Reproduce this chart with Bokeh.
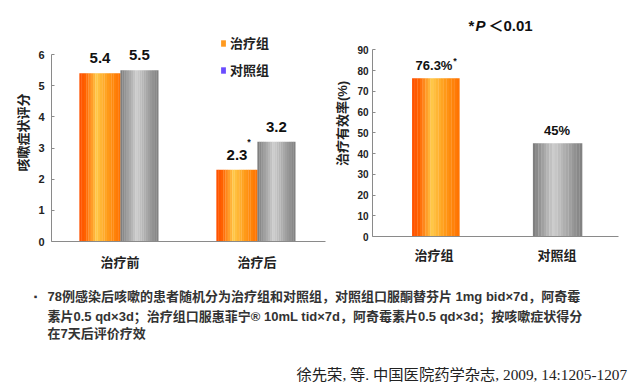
from bokeh.plotting import figure
from bokeh.models import (FactorRange, Range1d, Label, Legend, LegendItem,
                          ColumnDataSource, FixedTicker)
from bokeh.transform import dodge
from bokeh.layouts import column, row
from bokeh.core.properties import value
from bokeh.embed import file_html
from bokeh.resources import INLINE

# ---------------- data ----------------
periods = ["治疗前", "治疗后"]
treat_score = [5.4, 2.3]
control_score = [5.5, 3.2]
treat_score_text = ["5.4", "2.3"]
control_score_text = ["5.5", "3.2"]
treat_score_sig = ["", "*"]
score_ticks = [0, 1, 2, 3, 4, 5, 6]

groups = ["治疗组", "对照组"]
effective_rate = [76.3, 45]
rate_text = ["76.3%", "45%"]
rate_sig = ["*", ""]
rate_ticks = [0, 10, 20, 30, 40, 50, 60, 70, 80, 90]

legend_names = ["治疗组", "对照组"]
legend_colors = ["#FF9A20", "#6A4CFF"]

note_lines = [
    "78例感染后咳嗽的患者随机分为治疗组和对照组，对照组口服酮替芬片 1mg bid×7d，阿奇霉",
    "素片0.5  qd×3d；治疗组口服惠菲宁® 10mL  tid×7d，阿奇霉素片0.5  qd×3d；按咳嗽症状得分",
    "在7天后评价疗效",
]
citation = "徐先荣, 等. 中国医院药学杂志, 2009, 14:1205-1207"
p_note = ["*", "P", "＜0.01"]

# ---------------- style helpers ----------------
SANS = "Liberation Sans, Noto Sans CJK SC"
ORANGE_STOPS = [(0.0, (255, 80, 0)), (0.15, (255, 98, 0)), (0.42, (255, 200, 72)),
                (0.72, (255, 150, 20)), (1.0, (255, 112, 0))]
GREY_STOPS = [(0.0, (122, 122, 122)), (0.42, (205, 205, 205)), (1.0, (126, 126, 126))]


def interp(stops, t):
    for (t0, c0), (t1, c1) in zip(stops[:-1], stops[1:]):
        if t0 <= t <= t1:
            f = (t - t0) / (t1 - t0)
            c = [round(a + (b - a) * f) for a, b in zip(c0, c1)]
            return "#%02x%02x%02x" % tuple(c)
    return "#%02x%02x%02x" % stops[-1][1]


def gradient_bars(p, source, xfield, topfield, center, width, stops, n=18):
    sw = width / n
    for i in range(n):
        off = center - width / 2 + sw * (i + 0.5)
        p.vbar(x=dodge(xfield, off, range=p.x_range), top=topfield, width=sw * 1.08,
               source=source, fill_color=interp(stops, (i + 0.5) / n),
               line_color=None)


def style_axes(p, ylabel, tick_size, label_standoff):
    for ax in (p.xaxis[0], p.yaxis[0]):
        ax.axis_line_color = "#8a8a8a"
        ax.major_tick_line_color = "#8a8a8a"
        ax.minor_tick_line_color = None
        ax.major_label_text_font = SANS
        ax.major_label_text_font_style = "bold"
        ax.major_label_text_color = "#222222"
    p.xaxis.major_tick_line_color = None
    p.xaxis.major_label_text_font_size = "13px"
    p.yaxis.major_label_text_font_size = tick_size
    p.yaxis.major_tick_in = 3
    p.yaxis.major_tick_out = 0
    p.yaxis.major_label_standoff = label_standoff
    p.yaxis.axis_label = ylabel
    p.yaxis.axis_label_text_font = SANS
    p.yaxis.axis_label_text_font_style = "bold"
    p.yaxis.axis_label_text_font_size = "13px"
    p.yaxis.axis_label_text_color = "#222222"
    p.yaxis.axis_label_standoff = 4
    p.xgrid.grid_line_color = None
    p.ygrid.grid_line_color = None
    p.outline_line_color = None


# ---------------- left chart ----------------
src1 = ColumnDataSource(dict(period=periods, treat=treat_score, control=control_score,
                             ttext=treat_score_text, ctext=control_score_text,
                             tsig=treat_score_sig))
p1 = figure(width=318, height=280, x_range=FactorRange(*periods), y_range=Range1d(0, 7),
            output_backend="svg", toolbar_location=None, margin=(0, 0, 0, 8),
            min_border_left=43, min_border_right=1, min_border_top=23, min_border_bottom=39)
style_axes(p1, "咳嗽症状评分", "11px", 7)
p1.yaxis.ticker = FixedTicker(ticks=score_ticks)
p1.yaxis.bounds = (0, 6)
p1.xaxis.major_label_standoff = 7

gradient_bars(p1, src1, "period", "treat", -0.146, 0.3, ORANGE_STOPS)
gradient_bars(p1, src1, "period", "control", 0.142, 0.277, GREY_STOPS)

common_txt = dict(text_font=value(SANS), text_font_style="bold", text_color="#111111",
                  text_align="center", text_baseline="bottom")
p1.text(x=dodge("period", -0.146, range=p1.x_range), y="treat", text="ttext",
        source=src1, text_font_size="15px", y_offset=-10, **common_txt)
p1.text(x=dodge("period", 0.142, range=p1.x_range), y="control", text="ctext",
        source=src1, text_font_size="15px", y_offset=-10, **common_txt)
p1.text(x=dodge("period", -0.146, range=p1.x_range), y="treat", text="tsig",
        source=src1, text_font_size="9px", x_offset=12, y_offset=-23, **common_txt)

# legend (swatches from zero-height renderers)
items = []
for name, col in zip(legend_names, legend_colors):
    r = p1.vbar(x=[periods[0]], top=[0], bottom=[0], width=0.001,
                fill_color=col, line_color=None)
    items.append(LegendItem(label=name, renderers=[r]))
leg = Legend(items=items, location=(169, 162), padding=0, margin=0, spacing=8,
             glyph_width=6, glyph_height=8, label_standoff=4,
             label_text_font=SANS, label_text_font_style="bold",
             label_text_font_size="13px", label_text_color="#222222",
             border_line_color=None, background_fill_alpha=0)
p1.add_layout(leg)

# ---------------- right chart ----------------
src2 = ColumnDataSource(dict(group=groups, rate=effective_rate, rtext=rate_text, rsig=rate_sig))
p2 = figure(width=303, height=280, x_range=FactorRange(*groups), y_range=Range1d(0, 109),
            output_backend="svg", toolbar_location=None, margin=(0, 0, 0, 3),
            min_border_left=43, min_border_right=14, min_border_top=10, min_border_bottom=44)
style_axes(p2, "治疗有效率(%)", "10px", 4)
p2.yaxis.ticker = FixedTicker(ticks=rate_ticks)
p2.yaxis.bounds = (0, 90)
p2.xaxis.major_label_standoff = 5

gradient_bars(p2, ColumnDataSource(dict(group=groups[:1], rate=effective_rate[:1])),
              "group", "rate", 0.015, 0.385, ORANGE_STOPS)
gradient_bars(p2, ColumnDataSource(dict(group=groups[1:], rate=effective_rate[1:])),
              "group", "rate", 0.005, 0.4, GREY_STOPS)
p2.text(x="group", y="rate", text="rtext", source=src2, text_font_size="13px",
        y_offset=-5, **common_txt)
p2.text(x="group", y="rate", text="rsig", source=src2, text_font_size="9px",
        x_offset=21, y_offset=-12, **common_txt)

# *P<0.01 note
note_x = [96, 103, 116]
note_styles = ["bold", "bold italic", "bold"]
for t, x, st in zip(p_note, note_x, note_styles):
    p2.add_layout(Label(x=x, y=211, x_units="screen", y_units="screen", text=t,
                        text_font=SANS, text_font_style=st, text_font_size="15px",
                        text_baseline="middle", text_color="#111111"))

# ---------------- bottom notes ----------------
p3 = figure(width=632, height=106, x_range=Range1d(0, 1), y_range=Range1d(0, 1),
            output_backend="svg", toolbar_location=None,
            x_axis_location=None, y_axis_location=None,
            min_border_left=0, min_border_right=0, min_border_top=0, min_border_bottom=0)
p3.xgrid.grid_line_color = None
p3.ygrid.grid_line_color = None
p3.outline_line_color = None

p3.add_layout(Label(x=35, y=90, x_units="screen", y_units="screen", text="▪",
                    text_font=SANS, text_font_size="10px", text_baseline="middle",
                    text_align="center", text_color="#333333"))
for line, y in zip(note_lines, [90, 70, 53]):
    p3.add_layout(Label(x=47, y=y, x_units="screen", y_units="screen", text=line,
                        text_font=SANS, text_font_style="bold", text_font_size="13px",
                        text_baseline="middle", text_color="#333333"))
p3.add_layout(Label(x=296, y=12, x_units="screen", y_units="screen", text=citation,
                    text_font="Liberation Serif, Noto Sans CJK SC", text_font_size="15.3px",
                    text_align="left", text_baseline="middle", text_color="#222222"))

layout = column(row(p1, column(p2)), p3)
open("out.html", "w").write(file_html(layout, INLINE))
